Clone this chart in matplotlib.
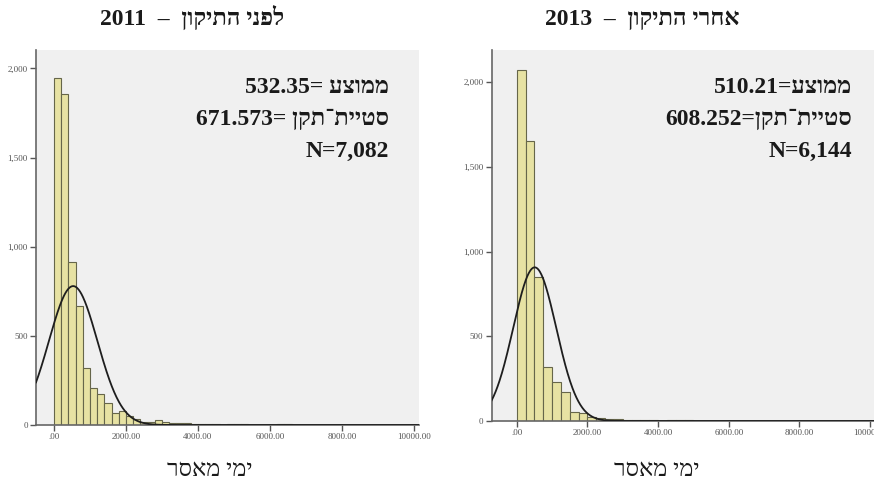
import numpy as np
import matplotlib
matplotlib.use("Agg")
import matplotlib.pyplot as plt

# ---------------- data ----------------
panel_titles = ["לפני התיקון", "אחרי התיקון"]
panel_years = ["2011", "2013"]
x_label = "ימי מאסר"

bin_width_2011 = 200
counts_2011 = [1944, 1855, 916, 667, 318, 206, 172, 122, 69, 80,
               48, 32, 18, 16, 30, 15, 14, 12, 10, 8,
               6, 4, 3, 2, 3, 8, 6, 2, 1, 2,
               1, 5, 5, 1, 1, 0, 1, 1, 0, 1,
               1, 0, 1, 0, 0, 1, 0, 0, 0, 1]

bin_width_2013 = 250
counts_2013 = [2072, 1655, 850, 320, 230, 171, 52, 45,
               24, 18, 14, 12, 8, 7, 6, 5,
               2, 4, 5, 4, 2, 1, 1, 1,
               1, 2, 1, 1, 1, 1, 0, 1,
               2, 1, 0, 1, 0, 1, 0, 1]

mean_2011, sd_2011, n_2011 = 532.35, 671.573, "7,082"
mean_2013, sd_2013, n_2013 = 510.21, 608.252, "6,144"
curve_peak_2011 = 779
curve_peak_2013 = 907

x_ticks = [0, 2000, 4000, 6000, 8000, 10000]
x_tick_labels = [".00", "2000.00", "4000.00", "6000.00", "8000.00", "10000.00"]
y_ticks = [0, 500, 1000, 1500, 2000]
y_tick_labels = ["0", "500", "1,000", "1,500", "2,000"]


def heb(s):
    """visual (left-to-right) order for a pure Hebrew run"""
    return s[::-1]


FONT = ["Liberation Serif", "DejaVu Serif", "DejaVu Sans"]

W, H = 874, 486
fig = plt.figure(figsize=(W / 100, H / 100), dpi=100)
fig.patch.set_facecolor("white")


def px_axes(x0, x1, ytop, ybot):
    return fig.add_axes([x0 / W, (H - ybot) / H, (x1 - x0) / W, (ybot - ytop) / H])


ax1 = px_axes(36, 419, 50, 425)
ax2 = px_axes(491.7, 880.8, 50, 421)

BAR_FACE = "#E7E2A3"
BAR_EDGE = "#66664a"


def draw(ax, counts, bw, mean, sd, peak, xlim, ylim):
    counts = np.asarray(counts, dtype=float)
    left_edges = np.arange(len(counts)) * bw
    ax.bar(left_edges, counts, width=bw, align="edge", color=BAR_FACE,
           edgecolor=BAR_EDGE, linewidth=0.8, zorder=2)
    xs = np.linspace(xlim[0], xlim[1], 800)
    ys = peak * np.exp(-0.5 * ((xs - mean) / sd) ** 2)
    ax.plot(xs, ys, color="#1e1e1e", linewidth=1.3, zorder=3)
    ax.set_xlim(*xlim)
    ax.set_ylim(*ylim)
    ax.set_facecolor("#F0F0F0")
    for s in ("top", "right"):
        ax.spines[s].set_visible(False)
    for s in ("left", "bottom"):
        ax.spines[s].set_color("#666666")
        ax.spines[s].set_linewidth(1.2)
    ax.set_xticks(x_ticks)
    ax.set_xticklabels(x_tick_labels, fontsize=6.5, color="#555555", family=FONT)
    ax.set_yticks(y_ticks)
    ax.set_yticklabels(y_tick_labels, fontsize=6.5, color="#555555", family=FONT)
    ax.tick_params(axis="both", length=4, width=1.0, color="#555555", pad=2)


draw(ax1, counts_2011, bin_width_2011, mean_2011, sd_2011, curve_peak_2011,
     (-500, 10140), (0, 2103))
draw(ax2, counts_2013, bin_width_2013, mean_2013, sd_2013, curve_peak_2013,
     (-707, 10300), (0, 2190))


def ftext(x, y, s, size, ha="center", weight="bold"):
    fig.text(x / W, 1 - y / H, s, ha=ha, va="baseline", fontsize=size,
             family=FONT, fontweight=weight, color="#1a1a1a")


# titles
ftext(192, 25, panel_years[0] + "  –  " + heb(panel_titles[0]), 17)
ftext(642, 25, panel_years[1] + "  –  " + heb(panel_titles[1]), 17)

# x labels
ftext(210, 476, heb(x_label), 17, weight="normal")
ftext(657, 476, heb(x_label), 17, weight="normal")

# statistics
mean_word = heb("ממוצע")
sd_word = heb("סטיית־תקן")
stats_left = [f"{mean_2011:.2f}= " + mean_word,
              f"{sd_2011:.3f}= " + sd_word,
              f"N={n_2011}"]
stats_right = [f"{mean_2013:.2f}=" + mean_word,
               f"{sd_2013:.3f}=" + sd_word,
               f"N={n_2013}"]
for i, (a, b) in enumerate(zip(stats_left, stats_right)):
    y = [93, 125, 157][i]
    ftext(389, y, a, 17, ha="right")
    ftext(852, y, b, 17, ha="right")

fig.savefig("out.png", dpi=100, facecolor="white")
